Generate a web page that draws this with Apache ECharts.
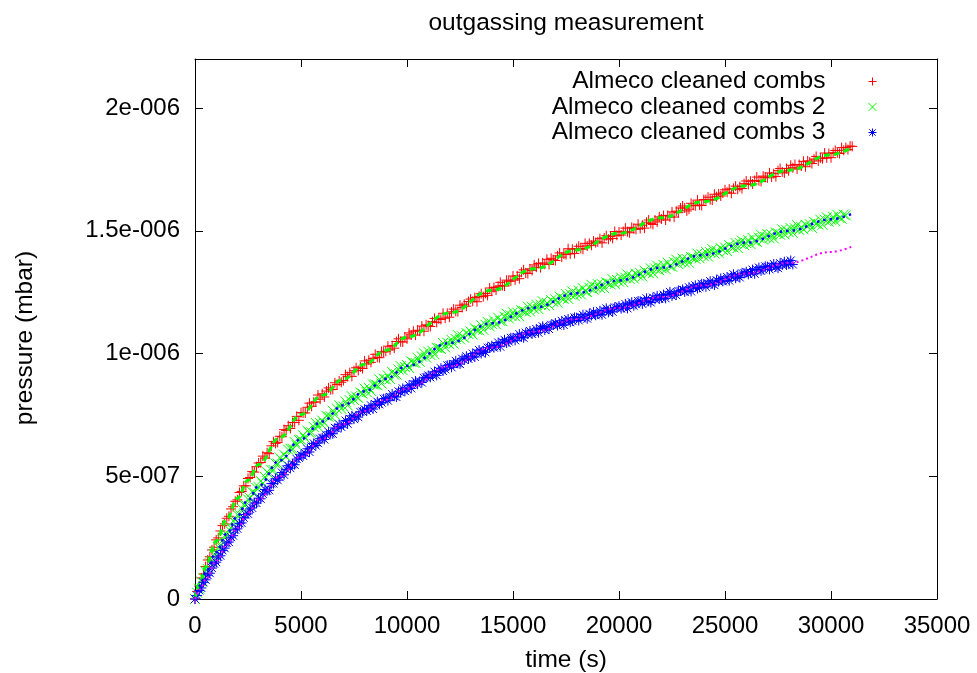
<!DOCTYPE html>
<html>
<head>
<meta charset="utf-8">
<title>outgassing measurement</title>
<script src="https://cdn.jsdelivr.net/npm/echarts@6.0.0/dist/echarts.min.js"></script>
<style>
  html, body { margin: 0; padding: 0; background: #fff; }
  #chart { width: 977px; height: 673px; }
</style>
</head>
<body>
<div id="chart"></div>
<script>
// Logger sampled the gauge every 100 s, starting at t = 0
const SAMPLE_INTERVAL_S = 100;

// Pressure readings, one row per 1000 s, in units of 1e-6 mbar
const combsRun1 = [
  0.000, 0.031, 0.053, 0.086, 0.102, 0.132, 0.159, 0.172, 0.200, 0.211,
  0.241, 0.249, 0.277, 0.299, 0.306, 0.329, 0.337, 0.367, 0.376, 0.398,
  0.404, 0.434, 0.438, 0.461, 0.461, 0.491, 0.495, 0.519, 0.517, 0.539,
  0.554, 0.556, 0.582, 0.574, 0.596, 0.592, 0.624, 0.641, 0.634, 0.638,
  0.663, 0.661, 0.690, 0.687, 0.706, 0.695, 0.719, 0.719, 0.744, 0.728,
  0.759, 0.758, 0.758, 0.781, 0.798, 0.785, 0.802, 0.803, 0.831, 0.814,
  0.836, 0.823, 0.847, 0.860, 0.853, 0.854, 0.881, 0.874, 0.888, 0.883,
  0.890, 0.914, 0.906, 0.922, 0.907, 0.930, 0.942, 0.931, 0.945, 0.939,
  0.970, 0.958, 0.973, 0.964, 0.980, 0.997, 0.985, 0.983, 1.008, 1.006,
  1.009, 1.030, 1.015, 1.032, 1.022, 1.049, 1.060, 1.048, 1.047, 1.067,
  1.060, 1.084, 1.076, 1.091, 1.075, 1.095, 1.091, 1.112, 1.091, 1.117,
  1.114, 1.110, 1.130, 1.143, 1.127, 1.141, 1.139, 1.164, 1.144, 1.164,
  1.148, 1.170, 1.181, 1.172, 1.171, 1.197, 1.188, 1.201, 1.193, 1.212,
  1.222, 1.213, 1.228, 1.211, 1.233, 1.244, 1.232, 1.245, 1.237, 1.267,
  1.254, 1.269, 1.259, 1.274, 1.290, 1.277, 1.275, 1.299, 1.295, 1.295,
  1.316, 1.300, 1.316, 1.305, 1.331, 1.341, 1.328, 1.326, 1.345, 1.338,
  1.361, 1.352, 1.367, 1.350, 1.369, 1.364, 1.384, 1.363, 1.388, 1.382,
  1.379, 1.398, 1.410, 1.393, 1.405, 1.403, 1.427, 1.406, 1.425, 1.408,
  1.428, 1.437, 1.428, 1.425, 1.449, 1.438, 1.449, 1.441, 1.458, 1.452,
  1.455, 1.468, 1.451, 1.471, 1.480, 1.466, 1.477, 1.469, 1.497, 1.482,
  1.495, 1.483, 1.497, 1.511, 1.496, 1.492, 1.514, 1.509, 1.506, 1.527,
  1.509, 1.523, 1.511, 1.535, 1.544, 1.530, 1.526, 1.544, 1.536, 1.557,
  1.548, 1.562, 1.544, 1.563, 1.557, 1.577, 1.556, 1.580, 1.574, 1.593,
  1.601, 1.593, 1.581, 1.588, 1.612, 1.604, 1.602, 1.625, 1.605, 1.603,
  1.627, 1.627, 1.637, 1.627, 1.625, 1.649, 1.639, 1.650, 1.642, 1.654,
  1.667, 1.657, 1.670, 1.653, 1.673, 1.682, 1.669, 1.680, 1.672, 1.692,
  1.703, 1.689, 1.702, 1.691, 1.705, 1.719, 1.704, 1.701, 1.723, 1.718,
  1.716, 1.736, 1.719, 1.733, 1.721, 1.745, 1.754, 1.740, 1.736, 1.754,
  1.745, 1.767, 1.757, 1.770, 1.752, 1.770, 1.764, 1.783, 1.761, 1.785,
  1.780, 1.774, 1.792, 1.803, 1.785, 1.797, 1.794, 1.817, 1.797, 1.815,
  1.798, 1.818, 1.827, 1.818, 1.815, 1.839, 1.828, 1.839, 1.831, 1.845,
  1.844
];

const combsRun2 = [
  0.000, 0.026, 0.042, 0.071, 0.086, 0.113, 0.122, 0.146, 0.154, 0.181,
  0.187, 0.211, 0.215, 0.239, 0.258, 0.261, 0.283, 0.290, 0.318, 0.321,
  0.343, 0.345, 0.369, 0.384, 0.383, 0.406, 0.411, 0.436, 0.433, 0.452,
  0.456, 0.481, 0.471, 0.497, 0.518, 0.508, 0.526, 0.526, 0.552, 0.552,
  0.576, 0.566, 0.588, 0.579, 0.608, 0.612, 0.612, 0.640, 0.626, 0.648,
  0.649, 0.667, 0.655, 0.686, 0.677, 0.679, 0.701, 0.717, 0.702, 0.717,
  0.727, 0.717, 0.746, 0.742, 0.744, 0.767, 0.751, 0.775, 0.789, 0.775,
  0.784, 0.804, 0.789, 0.810, 0.826, 0.811, 0.825, 0.819, 0.841, 0.837,
  0.857, 0.843, 0.860, 0.848, 0.874, 0.874, 0.871, 0.895, 0.878, 0.897,
  0.895, 0.910, 0.896, 0.925, 0.914, 0.915, 0.935, 0.949, 0.932, 0.945,
  0.953, 0.941, 0.968, 0.963, 0.962, 0.983, 0.966, 0.988, 1.001, 0.984,
  1.008, 0.994, 1.011, 0.997, 1.023, 1.022, 1.019, 1.043, 1.025, 1.044,
  1.038, 1.056, 1.040, 1.059, 1.075, 1.058, 1.070, 1.064, 1.084, 1.079,
  1.090, 1.077, 1.103, 1.097, 1.095, 1.115, 1.097, 1.117, 1.129, 1.111,
  1.121, 1.135, 1.119, 1.146, 1.133, 1.132, 1.150, 1.162, 1.143, 1.155,
  1.168, 1.152, 1.167, 1.152, 1.176, 1.174, 1.169, 1.191, 1.172, 1.189,
  1.182, 1.199, 1.181, 1.199, 1.213, 1.195, 1.206, 1.198, 1.217, 1.211,
  1.221, 1.207, 1.232, 1.225, 1.223, 1.242, 1.223, 1.242, 1.253, 1.235,
  1.244, 1.257, 1.241, 1.266, 1.253, 1.250, 1.268, 1.280, 1.260, 1.271,
  1.283, 1.267, 1.282, 1.266, 1.290, 1.287, 1.282, 1.303, 1.284, 1.300,
  1.293, 1.310, 1.291, 1.309, 1.322, 1.304, 1.315, 1.306, 1.325, 1.318,
  1.328, 1.314, 1.338, 1.331, 1.328, 1.347, 1.328, 1.347, 1.358, 1.339,
  1.348, 1.361, 1.344, 1.370, 1.356, 1.354, 1.372, 1.383, 1.364, 1.374,
  1.387, 1.371, 1.385, 1.370, 1.393, 1.391, 1.386, 1.407, 1.388, 1.404,
  1.397, 1.414, 1.395, 1.413, 1.426, 1.408, 1.419, 1.410, 1.429, 1.422,
  1.432, 1.417, 1.442, 1.434, 1.432, 1.450, 1.430, 1.450, 1.460, 1.442,
  1.450, 1.462, 1.446, 1.471, 1.458, 1.455, 1.472, 1.484, 1.464, 1.475,
  1.487, 1.470, 1.485, 1.469, 1.493, 1.490, 1.484, 1.506, 1.486, 1.503,
  1.495, 1.511, 1.492, 1.510, 1.523, 1.504, 1.515, 1.506, 1.524, 1.518,
  1.527, 1.512, 1.537, 1.529, 1.526, 1.545, 1.525, 1.545, 1.555, 1.537,
  1.545, 1.557, 1.540, 1.565, 1.552, 1.549, 1.566, 1.563
];

const combsRun3 = [
  0.000, 0.014, 0.035, 0.045, 0.068, 0.078, 0.097, 0.105, 0.126, 0.144,
  0.150, 0.171, 0.176, 0.198, 0.207, 0.228, 0.232, 0.252, 0.258, 0.282,
  0.286, 0.308, 0.310, 0.331, 0.344, 0.347, 0.367, 0.371, 0.391, 0.391,
  0.411, 0.408, 0.428, 0.446, 0.441, 0.443, 0.470, 0.470, 0.490, 0.484,
  0.496, 0.515, 0.506, 0.528, 0.543, 0.533, 0.549, 0.547, 0.570, 0.575,
  0.587, 0.583, 0.594, 0.612, 0.599, 0.621, 0.634, 0.625, 0.635, 0.653,
  0.657, 0.650, 0.667, 0.681, 0.674, 0.673, 0.697, 0.694, 0.711, 0.701,
  0.710, 0.727, 0.714, 0.734, 0.746, 0.733, 0.746, 0.741, 0.762, 0.764,
  0.773, 0.766, 0.775, 0.789, 0.774, 0.794, 0.804, 0.793, 0.800, 0.816,
  0.817, 0.808, 0.823, 0.835, 0.826, 0.823, 0.846, 0.842, 0.858, 0.847,
  0.855, 0.871, 0.858, 0.876, 0.888, 0.875, 0.887, 0.882, 0.901, 0.903,
  0.911, 0.903, 0.912, 0.926, 0.911, 0.930, 0.940, 0.929, 0.936, 0.952,
  0.953, 0.944, 0.958, 0.970, 0.960, 0.957, 0.979, 0.974, 0.989, 0.978,
  0.985, 1.000, 0.986, 1.003, 1.014, 1.000, 1.011, 1.005, 1.024, 1.024,
  1.032, 1.024, 1.031, 1.045, 1.028, 1.047, 1.056, 1.043, 1.049, 1.064,
  1.064, 1.054, 1.067, 1.079, 1.068, 1.064, 1.085, 1.079, 1.092, 1.080,
  1.086, 1.100, 1.085, 1.102, 1.111, 1.096, 1.107, 1.100, 1.117, 1.117,
  1.124, 1.114, 1.121, 1.133, 1.116, 1.133, 1.141, 1.128, 1.133, 1.147,
  1.146, 1.135, 1.148, 1.158, 1.147, 1.142, 1.162, 1.155, 1.169, 1.156,
  1.161, 1.174, 1.158, 1.175, 1.184, 1.168, 1.178, 1.170, 1.188, 1.187,
  1.193, 1.183, 1.189, 1.202, 1.184, 1.201, 1.209, 1.195, 1.201, 1.214,
  1.213, 1.202, 1.214, 1.225, 1.213, 1.208, 1.228, 1.221, 1.235, 1.222,
  1.227, 1.240, 1.225, 1.241, 1.251, 1.235, 1.245, 1.238, 1.255, 1.255,
  1.261, 1.251, 1.258, 1.270, 1.253, 1.270, 1.278, 1.265, 1.270, 1.284,
  1.283, 1.272, 1.285, 1.295, 1.284, 1.279, 1.299, 1.293, 1.306, 1.294,
  1.299, 1.312, 1.297, 1.313, 1.323, 1.307, 1.317, 1.310, 1.327, 1.327,
  1.333, 1.323, 1.330, 1.342, 1.325, 1.342, 1.350, 1.337, 1.342, 1.355,
  1.354, 1.343, 1.355, 1.365, 1.353, 1.348, 1.368, 1.361, 1.374, 1.361,
  1.366, 1.379, 1.363
];

// Fitted curves (1e-6 mbar) evaluated at these times (s)
const fitTime = [0, 250, 500, 1000, 1500, 2000, 2500, 3000, 4000, 5000, 6000, 7000, 8000, 9000,
  10000, 12000, 14000, 16000, 18000, 20000, 22000, 24000, 26000, 28000, 30000, 31000];
const fitRun1 = [0.000, 0.068, 0.130, 0.236, 0.327, 0.410, 0.484, 0.548, 0.658, 0.752, 0.830, 0.896, 0.956, 1.013,
  1.067, 1.165, 1.258, 1.345, 1.422, 1.490, 1.553, 1.619, 1.684, 1.747, 1.810, 1.841];
const fitRun2 = [0.000, 0.056, 0.108, 0.191, 0.266, 0.338, 0.403, 0.461, 0.565, 0.651, 0.723, 0.789, 0.846, 0.897,
  0.949, 1.043, 1.123, 1.187, 1.246, 1.298, 1.350, 1.402, 1.452, 1.500, 1.547, 1.570];
const fitRun3 = [0.000, 0.040, 0.079, 0.153, 0.222, 0.290, 0.352, 0.406, 0.499, 0.580, 0.652, 0.713, 0.766, 0.812,
  0.858, 0.948, 1.025, 1.089, 1.141, 1.186, 1.230, 1.278, 1.326, 1.369, 1.414, 1.436];

const seriesNames = ['Almeco cleaned combs', 'Almeco cleaned combs 2', 'Almeco cleaned combs 3'];
const xTicks = { min: 0, max: 35000, step: 5000 };
const yTicks = { min: 0, max: 2.2e-6, step: 5e-7 };

const FONT = '"Liberation Sans", Arial, Helvetica, sans-serif';
const FS_TICK = 24;
const FS_TEXT = 24.5;
const UNIT = 1e-6;

const sampledPairs = vals => vals.map((v, i) => [i * SAMPLE_INTERVAL_S, v * UNIT]);
const fitPairs = vals => vals.map((v, i) => [fitTime[i], v * UNIT]);

// gnuplot-style exponent labels: 2e-006, 5e-007
function expLabel(v) {
  if (Math.abs(v) < 1e-15) return '0';
  const s = Number(v.toPrecision(6)).toExponential();
  return s.replace(/e([+-])(\d+)$/, (m, sign, d) => 'e' + sign + d.padStart(3, '0'));
}

const PLUS = 'path://M0,5L10,5M5,0L5,10';
const CROSS = 'path://M0,0L10,10M10,0L0,10';
const STAR = 'path://M0,5L10,5M5,0L5,10M1,1L9,9M9,1L1,9';

function pointSeries(name, vals, symbol, color) {
  return {
    name, type: 'scatter', data: sampledPairs(vals),
    symbol, symbolSize: 10,
    itemStyle: { color: 'rgba(0,0,0,0)', borderColor: color, borderWidth: 1, opacity: 1 },
    emphasis: { disabled: true },
    xAxisIndex: 0, yAxisIndex: 0
  };
}

function fitSeries(name, vals, color, width, dash) {
  return {
    name, type: 'line', data: fitPairs(vals),
    showSymbol: false, symbol: 'none', smooth: 0.4, smoothMonotone: 'x',
    lineStyle: { color, width, type: dash, cap: 'butt' },
    emphasis: { disabled: true }, z: 3,
    xAxisIndex: 0, yAxisIndex: 0
  };
}

const tickText = { fontFamily: FONT, fontSize: FS_TICK, color: '#000' };
const nameText = { fontFamily: FONT, fontSize: FS_TEXT, color: '#000' };
const frameLine = { show: true, onZero: false, lineStyle: { color: '#000', width: 1 } };
const innerTick = { show: true, inside: true, length: 8, lineStyle: { color: '#000', width: 1 } };

const chart = echarts.init(document.getElementById('chart'), null, { renderer: 'canvas' });
chart.setOption({
  animation: false,
  backgroundColor: '#fff',
  grid: { left: 195, right: 40, top: 59, bottom: 74, containLabel: false, outerBoundsMode: 'none' },
  xAxis: [
    {
      type: 'value', position: 'bottom', min: xTicks.min, max: xTicks.max, interval: xTicks.step,
      axisLine: frameLine, axisTick: innerTick, splitLine: { show: false },
      axisLabel: Object.assign({ margin: 15, formatter: v => String(v) }, tickText),
      name: 'time (s)', nameLocation: 'middle', nameGap: 49, nameTextStyle: nameText
    },
    {
      type: 'value', position: 'top', min: xTicks.min, max: xTicks.max, interval: xTicks.step,
      axisLine: frameLine, axisTick: innerTick, splitLine: { show: false },
      axisLabel: { show: false }
    }
  ],
  yAxis: [
    {
      type: 'value', position: 'left', min: yTicks.min, max: yTicks.max, interval: yTicks.step,
      axisLine: frameLine, axisTick: innerTick, splitLine: { show: false },
      axisLabel: Object.assign({ margin: 15, formatter: expLabel, showMaxLabel: false }, tickText)
    },
    {
      type: 'value', position: 'right', min: yTicks.min, max: yTicks.max, interval: yTicks.step,
      axisLine: frameLine, axisTick: innerTick, splitLine: { show: false },
      axisLabel: { show: false }
    }
  ],
  legend: {
    data: seriesNames,
    orient: 'vertical', align: 'right',
    right: 100, top: 69, padding: 0,
    itemWidth: 8, itemHeight: 8, itemGap: 0.5,
    selectedMode: false,
    itemStyle: { borderWidth: 1 },
    textStyle: { fontFamily: FONT, fontSize: FS_TEXT, color: '#000', lineHeight: 24, padding: [0, 38, 0, 0] }
  },
  graphic: [
    {
      type: 'text', x: 566, y: 23, silent: true,
      style: { text: 'outgassing measurement', font: FS_TEXT + 'px ' + FONT, fill: '#000', align: 'center', verticalAlign: 'middle' }
    },
    {
      type: 'text', x: 25, y: 338, rotation: Math.PI / 2, silent: true,
      style: { text: 'pressure (mbar)', font: FS_TEXT + 'px ' + FONT, fill: '#000', align: 'center', verticalAlign: 'middle' }
    }
  ],
  series: [
    pointSeries(seriesNames[0], combsRun1, PLUS, '#ff0000'),
    pointSeries(seriesNames[1], combsRun2, CROSS, '#00ff00'),
    pointSeries(seriesNames[2], combsRun3, STAR, '#0000ff'),
    fitSeries('fit 1', fitRun1, '#00ff00', 3, [6, 4]),
    fitSeries('fit 2', fitRun2, '#0000ff', 2.5, [2.5, 4]),
    fitSeries('fit 3', fitRun3, '#ff00ff', 2, [2, 3])
  ]
});
</script>
</body>
</html>
